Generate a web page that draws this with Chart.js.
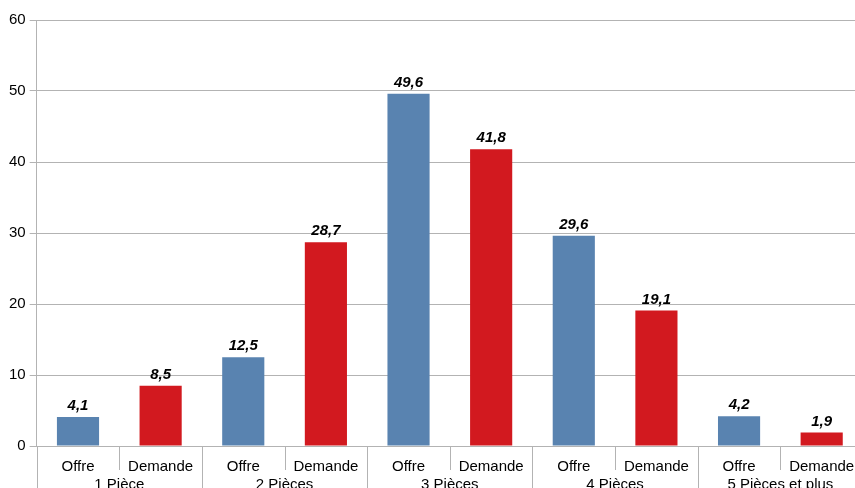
<!DOCTYPE html>
<html>
<head>
<meta charset="utf-8">
<script src="https://cdn.jsdelivr.net/npm/chart.js@4/dist/chart.umd.min.js"></script>
<style>
  html, body { margin: 0; padding: 0; background: #fff; overflow: hidden; }
  #wrap { position: relative; width: 870px; height: 500px; }
</style>
</head>
<body>
<div id="wrap"><canvas id="c"></canvas></div>
<script>
// Répartition par taille de logement : offre vs demande (%)
const groups = ['1 Pièce', '2 Pièces', '3 Pièces', '4 Pièces', '5 Pièces et plus'];
const seriesNames = ['Offre', 'Demande'];
const offre = [4.1, 12.5, 49.6, 29.6, 4.2];
const demande = [8.5, 28.7, 41.8, 19.1, 1.9];
const yTicks = [0, 10, 20, 30, 40, 50, 60];

const BLUE = '#5983b0';
const RED = '#d2191f';
const GRID = '#b3b3b3';

// One bar per (group, series) pair, in reading order
const labels = [];
const values = [];
const colors = [];
groups.forEach((g, i) => {
  labels.push(seriesNames[0]); values.push(offre[i]); colors.push(BLUE);
  labels.push(seriesNames[1]); values.push(demande[i]); colors.push(RED);
});

// Separators under the x axis: short between series, long between groups
const separators = {
  id: 'separators',
  afterDraw(chart) {
    const x = chart.scales.x;
    const ctx = chart.ctx;
    const y0 = chart.chartArea.bottom;
    ctx.save();
    ctx.strokeStyle = GRID;
    ctx.lineWidth = 1;
    for (let i = 0; i <= labels.length; i++) {
      const px = Math.round(x.getPixelForValue(i - 0.5)) + 0.5;
      const len = (i % 2 === 0) ? 60 : 24;
      ctx.beginPath();
      ctx.moveTo(px, y0);
      ctx.lineTo(px, y0 + len);
      ctx.stroke();
    }
    ctx.restore();
  }
};

// Value labels above each bar
const valueLabels = {
  id: 'valueLabels',
  afterDatasetsDraw(chart) {
    const ctx = chart.ctx;
    const meta = chart.getDatasetMeta(0);
    ctx.save();
    ctx.font = 'italic bold 15px "Liberation Sans", Arial, sans-serif';
    ctx.fillStyle = '#000';
    ctx.textAlign = 'center';
    ctx.textBaseline = 'middle';
    meta.data.forEach((bar, i) => {
      const txt = values[i].toFixed(1).replace('.', ',');
      ctx.fillText(txt, bar.x, bar.y - 11);
    });
    ctx.restore();
  }
};

const tickFont = { family: '"Liberation Sans", Arial, sans-serif', size: 15 };

new Chart(document.getElementById('c'), {
  type: 'bar',
  data: {
    labels: labels,
    datasets: [{
      data: values,
      backgroundColor: colors,
      borderWidth: 0,
      barPercentage: 0.51,
      categoryPercentage: 1.0
    }]
  },
  options: {
    responsive: true,
    maintainAspectRatio: false,
    animation: false,
    devicePixelRatio: 1,
    layout: { padding: { left: 5, right: 7, top: 20, bottom: 0 } },
    plugins: { legend: { display: false }, tooltip: { enabled: false } },
    scales: {
      x: {
        type: 'category',
        position: 'bottom',
        offset: true,
        grid: { display: false, drawTicks: false },
        border: { display: false },
        ticks: { color: '#000', font: tickFont, padding: 12, maxRotation: 0, autoSkip: false },
        afterFit(s) { s.height = 26; }
      },
      x2: {
        type: 'category',
        position: 'bottom',
        labels: groups,
        offset: true,
        grid: { display: false, drawTicks: false },
        border: { display: false },
        ticks: { color: '#000', font: tickFont, padding: 4, maxRotation: 0, autoSkip: false },
        afterFit(s) { s.height = 28; }
      },
      y: {
        min: yTicks[0],
        max: yTicks[yTicks.length - 1],
        afterBuildTicks(s) { s.ticks = yTicks.map(v => ({ value: v })); },
        grid: { color: GRID, tickLength: 7, lineWidth: 1 },
        border: { color: GRID },
        ticks: { color: '#000', font: tickFont, padding: 4 }
      }
    }
  },
  plugins: [separators, valueLabels]
});
</script>
</body>
</html>
